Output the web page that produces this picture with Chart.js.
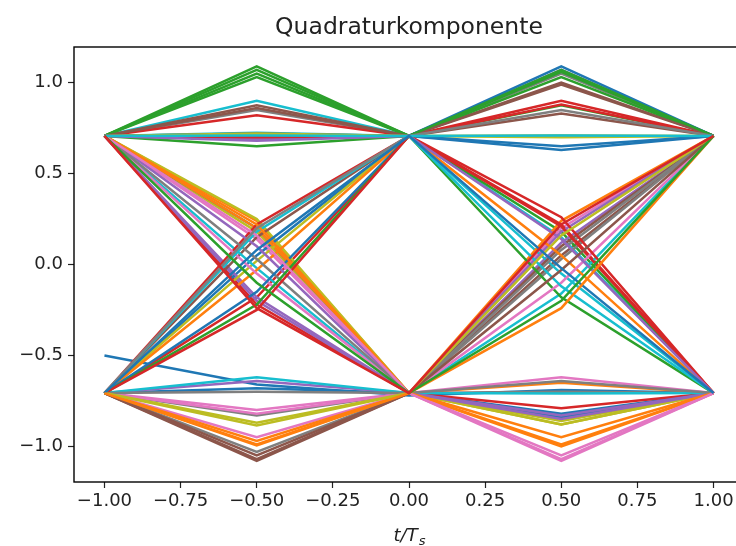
<!DOCTYPE html>
<html>
<head>
<meta charset="utf-8">
<script src="https://cdn.jsdelivr.net/npm/chart.js@4.4.1/dist/chart.umd.min.js"></script>
<style>
  html, body { margin: 0; padding: 0; background: #fff; overflow: hidden; }
  #wrap { position: relative; width: 780px; height: 546px; }
</style>
</head>
<body>
<div id="wrap"><canvas id="eye"></canvas></div>
<script>
// Eye diagram of the quadrature component: each trace spans two symbol
// periods, sampled at t/Ts = -1, -0.5, 0, 0.5, 1.
const sampleTimes = [-1, -0.5, 0, 0.5, 1];

// Sample values of every trace, one array per sampling instant.
const yStart = [
  -0.50, 0.707, 0.707, -0.707, 0.707, -0.707, 0.707, 0.707, 0.707, 0.707,
  -0.707, -0.707, 0.707, 0.707, 0.707, 0.707, -0.707, -0.707, 0.707, 0.707,
  0.707, -0.707, 0.707, 0.707, -0.707, -0.707, -0.707, -0.707, -0.707, -0.707,
  -0.707, 0.707, 0.707, 0.707, 0.707, -0.707, -0.707, -0.707, -0.707, 0.707,
  0.707, -0.707, 0.707, -0.707, 0.707, 0.707, 0.707, 0.707, 0.707, -0.707,
  -0.707, 0.707, -0.707, -0.707, 0.707, -0.707, 0.707, -0.707, -0.707, 0.707,
  -0.707, -0.707, 0.707, 0.707
];
const yLeftMid = [
  -0.66, 0.24, 1.09, -0.18, 0.69, -1.08, 0.14, 0.85, 0.25, 0.90,
  -0.68, -0.99, 1.07, -0.22, -0.20, 0.875, -0.95, -1.03, 0.18, 0.725,
  0.20, -0.97, 1.05, 0.82, -0.64, -1.05, -0.80, -0.83, -0.885, -0.62,
  0.05, 0.20, 1.03, 0.70, -0.18, 0.15, -0.82, -0.70, 0.02, -0.02,
  0.72, -0.03, 0.65, 0.22, 0.10, 0.86, -0.05, 0.03, 0.72, 0.18,
  -0.15, 0.22, -0.22, -0.25, 0.68, -1.07, 0.16, 0.20, -0.87, 0.71,
  0.08, -0.995, -0.10, -0.24
];
const yCenter = [
  -0.72, -0.707, 0.707, 0.707, 0.707, -0.707, -0.707, 0.707, -0.707, 0.707,
  -0.707, -0.707, 0.707, -0.707, -0.707, 0.707, -0.707, -0.707, -0.707, 0.707,
  -0.707, -0.707, 0.707, 0.707, -0.707, -0.707, -0.707, -0.707, -0.707, -0.707,
  0.707, -0.707, 0.707, 0.707, -0.707, 0.707, -0.707, -0.707, 0.707, -0.707,
  0.707, 0.707, 0.707, 0.707, -0.707, 0.707, -0.707, -0.707, 0.707, 0.707,
  0.707, -0.707, 0.707, 0.707, 0.707, -0.707, -0.707, 0.707, -0.707, 0.707,
  0.707, -0.707, -0.707, -0.707
];
const yRightMid = [
  -0.69, -0.99, 0.875, 0.90, 1.07, 0.05, -1.08, 1.05, -0.88, 0.15,
  -0.82, -0.65, 0.18, -0.79, 0.12, 1.00, 0.20, 0.03, -0.86, -0.05,
  -0.84, 0.24, 1.06, 0.22, -0.83, 0.10, -0.62, -0.70, -0.88, -0.71,
  1.09, -1.00, 1.03, 0.88, 0.18, 0.83, -1.05, 0.08, 0.71, -0.16,
  0.63, 0.05, -0.18, 0.21, -0.85, 0.99, -0.10, -0.64, 0.70, -0.12,
  0.65, -0.95, 1.07, 0.26, 0.14, -0.03, -1.07, 0.85, 0.16, 0.71,
  -0.02, -0.24, -0.20, 0.22
];
const yEnd = [
  -0.707, -0.707, 0.707, 0.707, 0.707, 0.707, -0.707, 0.707, -0.707, -0.707,
  -0.707, -0.707, -0.707, -0.707, 0.707, 0.707, 0.707, 0.707, -0.707, -0.707,
  -0.707, 0.707, 0.707, -0.707, -0.707, 0.707, -0.707, -0.707, -0.707, -0.707,
  0.707, -0.707, 0.707, 0.707, 0.707, 0.707, -0.707, 0.707, 0.707, 0.707,
  0.707, -0.707, -0.707, -0.707, -0.707, 0.707, 0.707, -0.707, 0.707, -0.707,
  0.707, -0.707, 0.707, -0.707, -0.707, 0.707, -0.707, 0.707, 0.707, 0.707,
  -0.707, 0.707, 0.707, 0.707
];

const xTicks = [-1.0, -0.75, -0.5, -0.25, 0.0, 0.25, 0.5, 0.75, 1.0];
const yTicks = [-1.0, -0.5, 0.0, 0.5, 1.0];
const chartTitle = 'Quadraturkomponente';

// Default ten-colour cycle, one colour per trace in turn.
const palette = ['#1f77b4', '#ff7f0e', '#2ca02c', '#d62728', '#9467bd',
                 '#8c564b', '#e377c2', '#7f7f7f', '#bcbd22', '#17becf'];

const columns = [yStart, yLeftMid, yCenter, yRightMid, yEnd];
const datasets = yStart.map((_, i) => ({
  data: sampleTimes.map((t, k) => ({ x: t, y: columns[k][i] })),
  borderColor: palette[i % palette.length],
  borderWidth: 2.5,
  pointRadius: 0,
  fill: false,
  tension: 0,
  // later traces are painted over earlier ones
  order: yStart.length - i
}));

const FONT = "'DejaVu Sans', sans-serif";
const fmt = (v, d) => (v < 0 ? '\u2212' : '') + Math.abs(v).toFixed(d);

// Closed box around the plotting area, the title centred over the axes,
// and the x-axis label with its subscript.
const framePlugin = {
  id: 'frame',
  afterDraw(chart) {
    const { ctx, chartArea: a } = chart;
    ctx.save();
    ctx.strokeStyle = '#000';
    ctx.lineWidth = 1.4;
    ctx.strokeRect(a.left, a.top, a.right - a.left, a.bottom - a.top);

    const cx = (a.left + a.right) / 2;
    ctx.fillStyle = '#222';
    ctx.textBaseline = 'alphabetic';
    ctx.textAlign = 'center';
    ctx.font = '23.5px ' + FONT;
    ctx.fillText(chartTitle, cx, 34);

    ctx.textAlign = 'left';
    const main = 'italic 18px ' + FONT;
    const sub = 'italic 13px ' + FONT;
    ctx.font = main;
    const w1 = ctx.measureText('t/T').width;
    ctx.font = sub;
    const w2 = ctx.measureText('s').width;
    const x0 = cx - (w1 + w2) / 2;
    const base = 541;
    ctx.font = main;
    ctx.fillText('t/T', x0, base);
    ctx.font = sub;
    ctx.fillText('s', x0 + w1 + 1, base + 4);
    ctx.restore();
  }
};

new Chart(document.getElementById('eye'), {
  type: 'line',
  data: { datasets },
  options: {
    responsive: true,
    maintainAspectRatio: false,
    animation: false,
    events: [],
    layout: { padding: { left: 0, right: 36, top: 47, bottom: 0 } },
    plugins: {
      legend: { display: false },
      tooltip: { enabled: false },
      title: { display: false }
    },
    scales: {
      x: {
        type: 'linear',
        min: -1.1,
        max: 1.1,
        afterBuildTicks: s => { s.ticks = xTicks.map(v => ({ value: v })); },
        afterFit: s => { s.height = 64; },
        grid: { drawOnChartArea: false, tickLength: 6, tickColor: '#222', tickWidth: 1.2 },
        border: { display: false },
        ticks: {
          color: '#222',
          padding: 3,
          maxRotation: 0,
          autoSkip: false,
          font: { family: FONT, size: 18 },
          callback: v => fmt(v, 2)
        }
      },
      y: {
        type: 'linear',
        min: -1.196,
        max: 1.196,
        afterBuildTicks: s => { s.ticks = yTicks.map(v => ({ value: v })); },
        afterFit: s => { s.width = 74; },
        grid: { drawOnChartArea: false, tickLength: 6, tickColor: '#222', tickWidth: 1.2 },
        border: { display: false },
        ticks: {
          color: '#222',
          padding: 5,
          autoSkip: false,
          font: { family: FONT, size: 18 },
          callback: v => fmt(v, 1)
        }
      }
    }
  },
  plugins: [framePlugin]
});
</script>
</body>
</html>
